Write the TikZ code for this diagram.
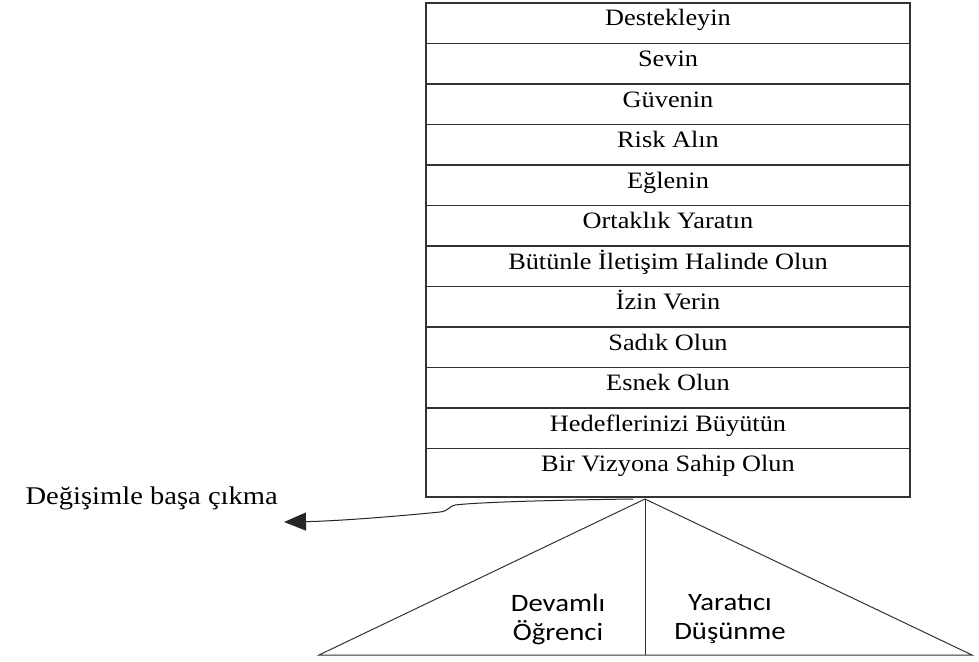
\documentclass[tikz,border=0pt]{standalone}
\usepackage{fontspec}
\newfontfamily\rowfont{Liberation Serif}[FakeStretch=1.12]
\newfontfamily\basefont{Carlito}[FakeStretch=1.15]
\usetikzlibrary{positioning,arrows.meta}

\begin{document}
\begin{tikzpicture}[
    x=1pt, y=-1pt,
    cell/.style={rectangle, draw=black!80, line width=1.1pt, minimum width=484pt, minimum height=40.5pt, inner sep=0pt, outer sep=0pt, text height=12pt, text depth=6.5pt, font=\rowfont\fontsize{23.5}{27}\selectfont},
    lastcell/.style={cell, minimum height=48.5pt, text height=10pt, text depth=12.5pt},
    part/.style={align=center, font=\basefont\fontsize{25}{29}\selectfont},
    >={Triangle[length=22pt,width=18pt]}
]
    \fill[white] (0,0) rectangle (979,661);
    \useasboundingbox (0,0) rectangle (979,661);

    % Steps of the tower
    \node[cell] (row1) at (668, 23.25) {Destekleyin};
    \foreach \txt [count=\i from 2] in {Sevin, Güvenin, Risk Alın, Eğlenin, Ortaklık Yaratın, Bütünle İletişim Halinde Olun, İzin Verin, Sadık Olun, Esnek Olun, Hedeflerinizi Büyütün}{
        \pgfmathtruncatemacro{\prev}{\i-1}
        \node[cell, below=0pt of row\prev] (row\i) {\txt};
    }
    \node[lastcell, below=0pt of row11] (row12) {Bir Vizyona Sahip Olun};

    % Base triangle
    \coordinate (apex) at (645, 499);
    \coordinate (baseL) at (319, 655);
    \coordinate (baseR) at (972, 655);
    \coordinate (baseM) at (645, 655);
    \draw[line width=1pt, black!80] (baseL) -- (apex) -- (baseR) -- cycle;
    \draw[line width=1pt, black!80] (apex) -- (baseM);

    \node[part] (learner) at (558, 619) {Devamlı\\Öğrenci};
    \node[part] (thinking) at (730, 619) {Yaratıcı\\Düşünme};

    % Coping with change
    \node[anchor=base east, inner sep=0pt, font=\rowfont\fontsize{25.5}{29}\selectfont] (change) at (278, 504) {Değişimle başa çıkma};
    \coordinate (start) at (633, 499);
    \coordinate (tip) at (284, 522);
    \draw[->, line width=1pt, black!85] (start) .. controls (560,500) and (480,502) .. (455,505)
        .. controls (449,506) and (449,511) .. (440,512)
        .. controls (400,516) and (340,521) .. (tip);
\end{tikzpicture}
\end{document}
